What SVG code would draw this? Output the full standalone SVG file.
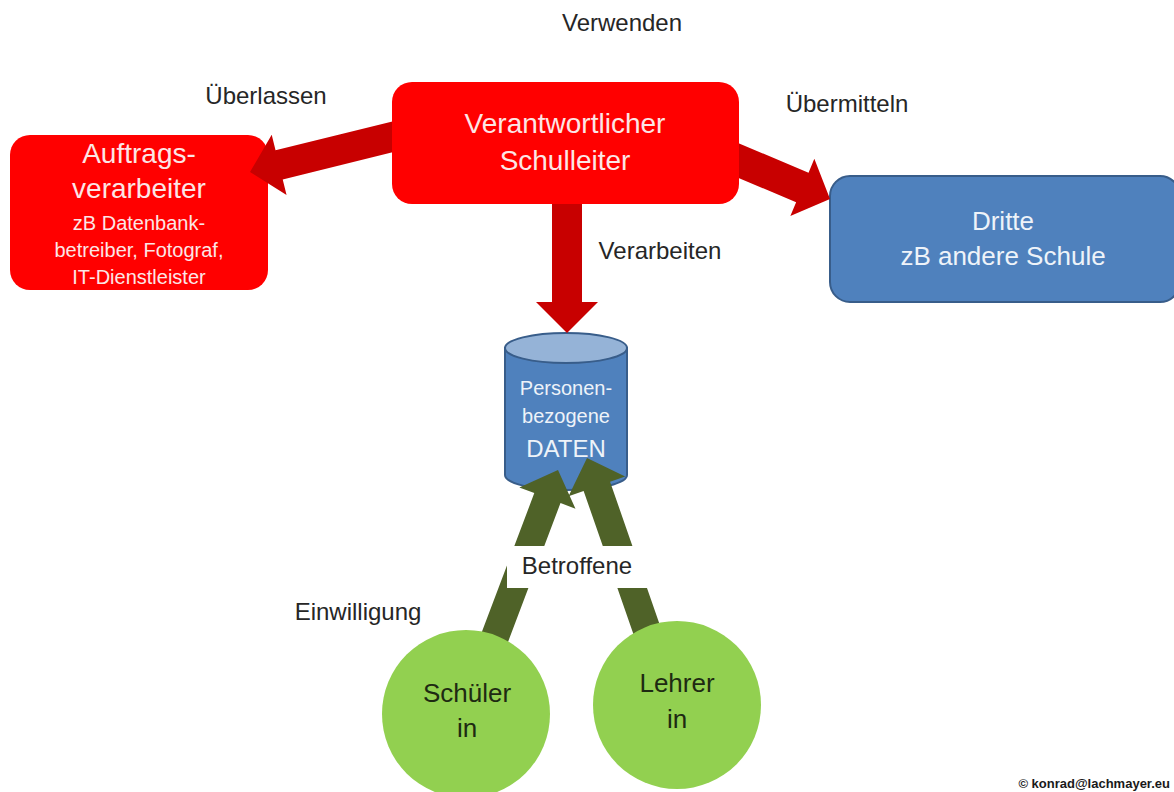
<svg xmlns="http://www.w3.org/2000/svg" width="1174" height="792" viewBox="0 0 1174 792">
<style>
  .lbl{font-family:"Liberation Sans",Arial,sans-serif;font-size:24px;fill:#262626;text-anchor:middle}
  .red{fill:#ff0000}
  .rtxt{font-family:"Liberation Sans",Arial,sans-serif;fill:#fce6e6;text-anchor:middle}
  .btxt{font-family:"Liberation Sans",Arial,sans-serif;fill:#eef3f9;text-anchor:middle}
  .gtxt{font-family:"Liberation Sans",Arial,sans-serif;font-size:26px;fill:#1e2a12;text-anchor:middle}
  .rarrow{fill:#c80000}
  .garrow{fill:#4f6228}
  .circ{fill:#92d050}
</style>
<rect width="1174" height="792" fill="#ffffff"/>

<g id="auftragsverarbeiter">
  <rect class="red" x="10" y="135" width="258" height="155" rx="20" ry="20"/>
  <text class="rtxt" font-size="28" x="139" y="163">Auftrags-</text>
  <text class="rtxt" font-size="28" x="139" y="198">verarbeiter</text>
  <text class="rtxt" font-size="20" x="139" y="230">zB Datenbank-</text>
  <text class="rtxt" font-size="20" x="139" y="257">betreiber, Fotograf,</text>
  <text class="rtxt" font-size="20" x="139" y="284">IT-Dienstleister</text>
</g>

<g id="dritte">
  <rect x="830" y="176" width="350" height="126" rx="20" ry="20" fill="#4f81bd" stroke="#385d8a" stroke-width="2"/>
  <text class="btxt" font-size="26" x="1003" y="230">Dritte</text>
  <text class="btxt" font-size="26" x="1003" y="265">zB andere Schule</text>
</g>

<g id="daten">
  <path d="M505,348 L505,475 A61,15 0 0 0 627,475 L627,348 Z" fill="#4f81bd" stroke="#385d8a" stroke-width="2"/>
  <ellipse cx="566" cy="348" rx="61" ry="15" fill="#95b3d7" stroke="#385d8a" stroke-width="2"/>
  <text class="btxt" font-size="20" x="566" y="395" fill="#dbe5f1">Personen-</text>
  <text class="btxt" font-size="20" x="566" y="423" fill="#dbe5f1">bezogene</text>
  <text class="btxt" font-size="24" x="566" y="457" fill="#dbe5f1">DATEN</text>
</g>

<g id="connectors">
  <polygon class="rarrow" points="396.41,120.43 275.54,150.24 271.71,134.71 250,172 286.55,194.91 282.72,179.38 403.59,149.57"/>
  <polygon class="rarrow" points="723.80,171.75 796.14,202.13 790.34,215.96 830,199 814.34,158.80 808.54,172.63 736.20,142.25"/>
  <polygon class="rarrow" points="552,200 582,200 582,302 598,302 567,333 536,302 552,302"/>
  <polygon class="garrow" points="503.10,654.95 560.50,503.02 575.47,508.67 558,470 519.33,487.47 534.30,493.12 476.90,645.05"/>
  <polygon class="garrow" points="665.22,640.40 610.07,481.73 625.18,476.48 587,458 568.52,496.18 583.63,490.93 638.78,649.60"/>
  <rect x="507" y="546" width="141" height="42" fill="#ffffff"/>
  <text class="lbl" x="577" y="574">Betroffene</text>
  <text class="lbl" x="622" y="31">Verwenden</text>
  <text class="lbl" x="266" y="104">Überlassen</text>
  <text class="lbl" x="847" y="112">Übermitteln</text>
  <text class="lbl" x="660" y="259">Verarbeiten</text>
  <text class="lbl" x="358" y="620">Einwilligung</text>
</g>

<g id="schulleiter">
  <rect class="red" x="392" y="82" width="347" height="122" rx="20" ry="20"/>
  <text class="rtxt" font-size="28" x="565" y="133">Verantwortlicher</text>
  <text class="rtxt" font-size="28" x="565" y="170">Schulleiter</text>
</g>

<g id="schueler">
  <circle class="circ" cx="466" cy="714" r="84"/>
  <text class="gtxt" x="467" y="702">Schüler</text>
  <text class="gtxt" x="467" y="737">in</text>
</g>

<g id="lehrer">
  <circle class="circ" cx="677" cy="705" r="84"/>
  <text class="gtxt" x="677" y="692">Lehrer</text>
  <text class="gtxt" x="677" y="728">in</text>
</g>

<text x="1170" y="788" font-family="Liberation Sans,Arial,sans-serif" font-size="13" font-weight="bold" fill="#1a1a1a" text-anchor="end">© konrad@lachmayer.eu</text>
</svg>
